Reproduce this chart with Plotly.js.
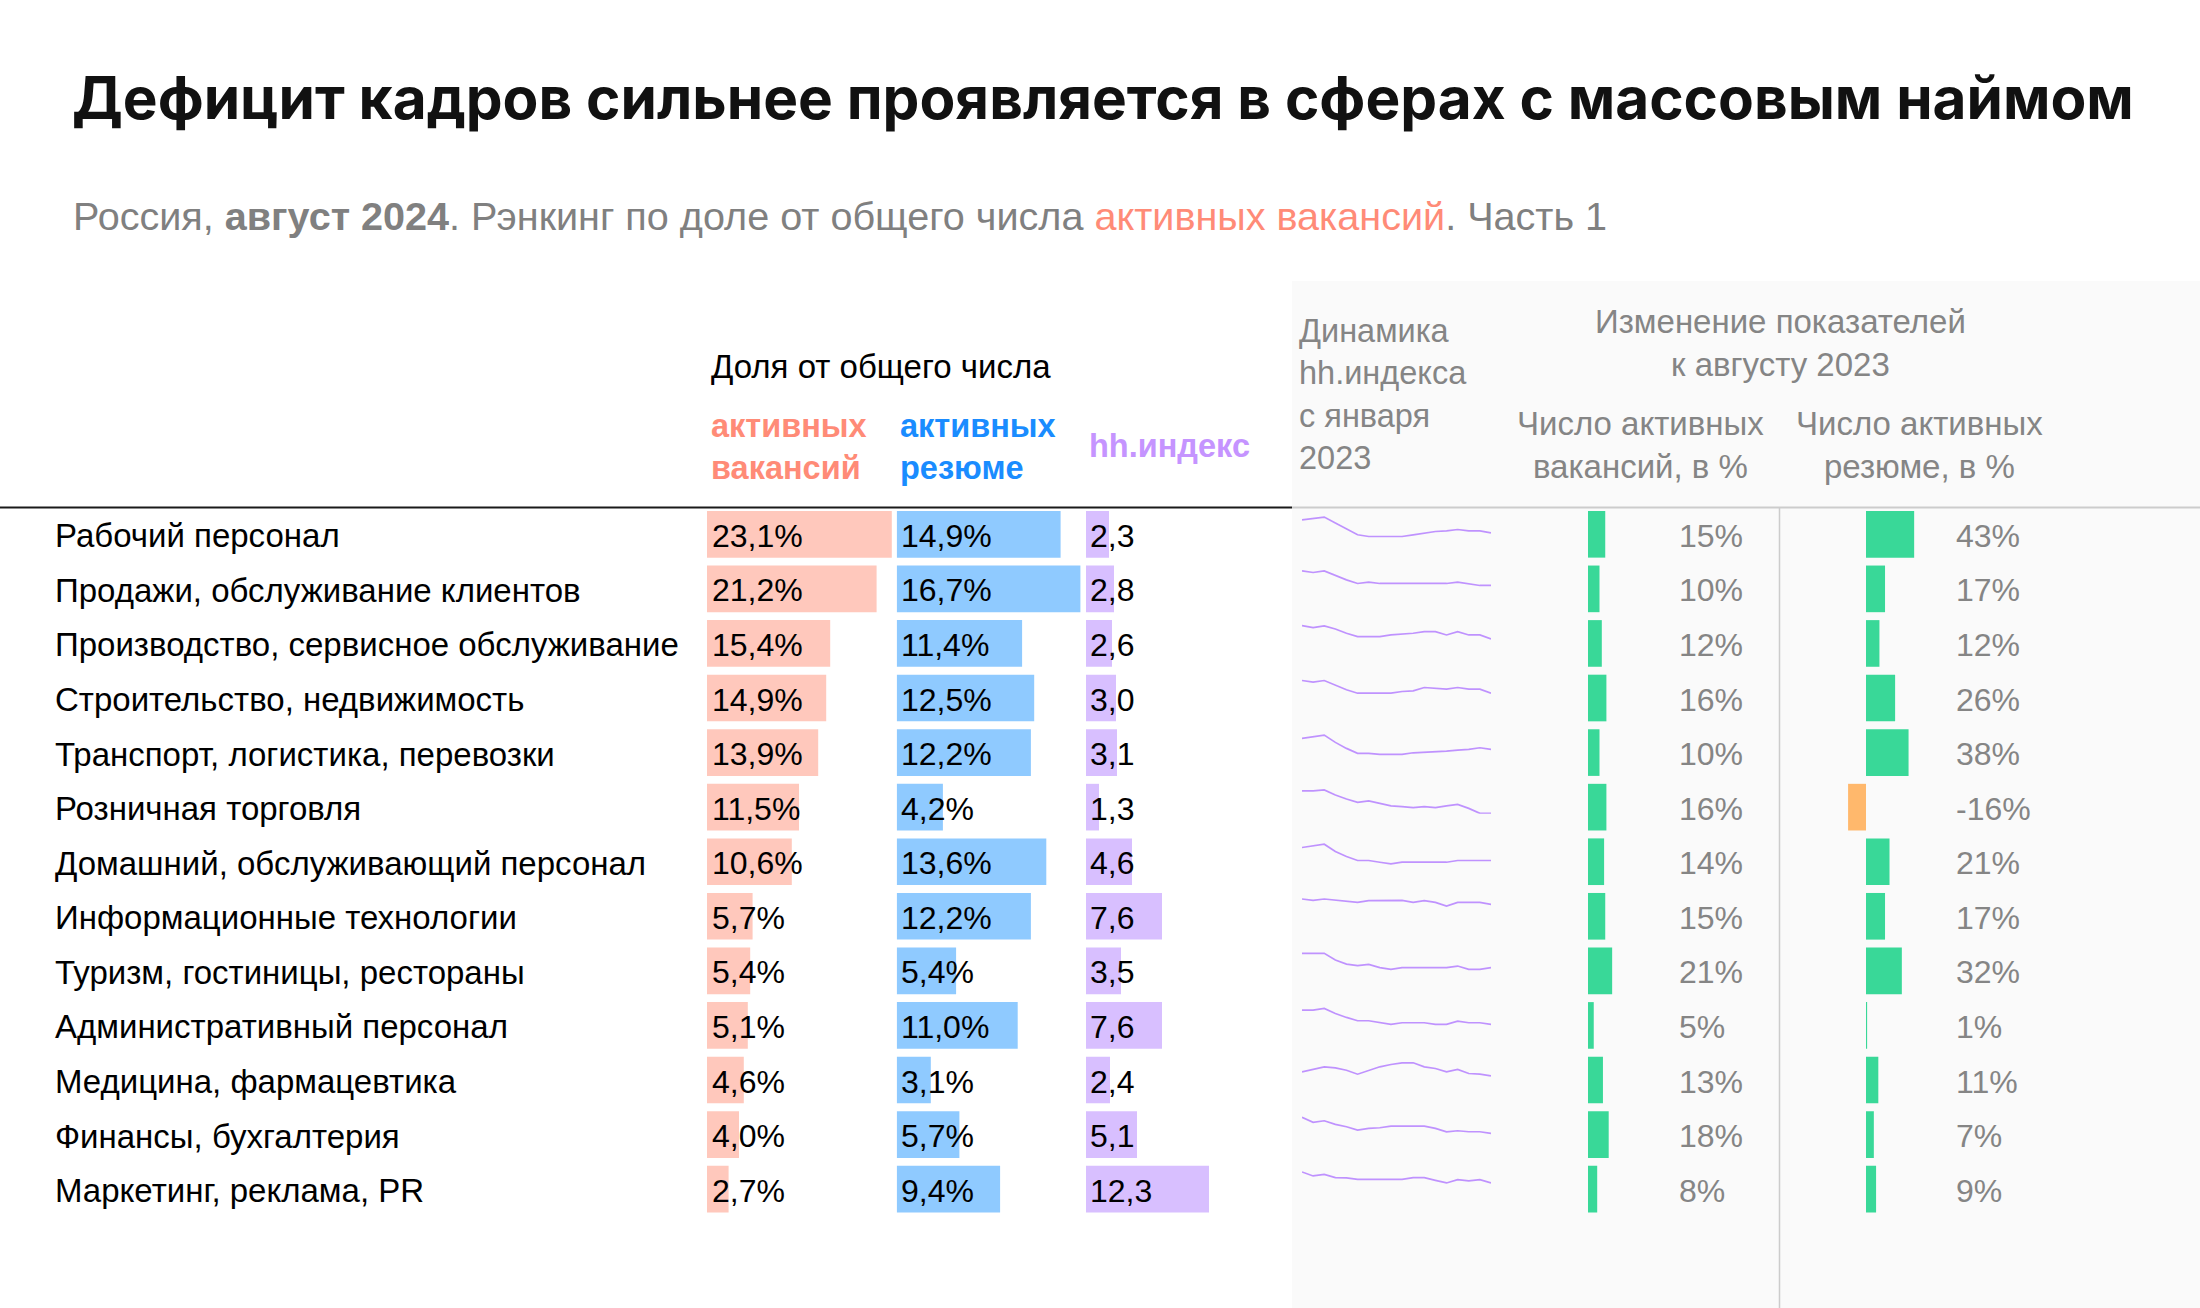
<!DOCTYPE html>
<html>
<head>
<meta charset="utf-8">
<script src="https://cdn.plot.ly/plotly-3.0.1.min.js"></script>
<style>
  html, body { margin: 0; padding: 0; background: #ffffff; }
  #chart { width: 2200px; height: 1308px; }
</style>
</head>
<body>
<div id="chart"></div>
<script>
// ---------------- DATA ----------------
const categories = [
  "Рабочий персонал",
  "Продажи, обслуживание клиентов",
  "Производство, сервисное обслуживание",
  "Строительство, недвижимость",
  "Транспорт, логистика, перевозки",
  "Розничная торговля",
  "Домашний, обслуживающий персонал",
  "Информационные технологии",
  "Туризм, гостиницы, рестораны",
  "Административный персонал",
  "Медицина, фармацевтика",
  "Финансы, бухгалтерия",
  "Маркетинг, реклама, PR"
];
const vacancyShare = [23.1, 21.2, 15.4, 14.9, 13.9, 11.5, 10.6, 5.7, 5.4, 5.1, 4.6, 4.0, 2.7];
const resumeShare  = [14.9, 16.7, 11.4, 12.5, 12.2, 4.2, 13.6, 12.2, 5.4, 11.0, 3.1, 5.7, 9.4];
const hhIndex      = [2.3, 2.8, 2.6, 3.0, 3.1, 1.3, 4.6, 7.6, 3.5, 7.6, 2.4, 5.1, 12.3];
const vacancyChange = [15, 10, 12, 16, 10, 16, 14, 15, 21, 5, 13, 18, 8];
const resumeChange  = [43, 17, 12, 26, 38, -16, 21, 17, 32, 1, 11, 7, 9];

// hh.index trend since Jan 2023 (relative level read from the sparklines)
const trend0  = [21, 22.3, 23.7, 17.7, 12, 6, 4.3, 4.3, 4.3, 4.3, 6, 7.7, 9.3, 10, 11.3, 10, 10, 8];
const trend1  = [24.5, 22.9, 24.5, 19.9, 15.5, 11.9, 13.2, 11.9, 11.9, 11.9, 11.9, 11.9, 11.9, 11.9, 13.2, 11.2, 9.9, 9.9];
const trend2  = [24.3, 22.3, 24, 21, 16.7, 13.3, 13.3, 13.3, 15, 15.7, 16.7, 18.3, 18.3, 15, 18.3, 15, 15, 11];
const trend3  = [24, 22.3, 24, 19, 14.7, 11.3, 11.3, 11.3, 11.3, 13, 13.7, 17, 16.3, 15.3, 17, 15.3, 15.3, 11.3];
const trend4  = [20.7, 22.3, 24, 16.7, 10.7, 5.7, 5.7, 4.7, 4.7, 4.7, 6.3, 6.7, 7.3, 8, 9, 9.7, 11.3, 9.7];
const trend5  = [22.7, 22.7, 23.7, 18.7, 14.7, 11.3, 12.7, 10.3, 7.7, 7, 6, 7, 6, 7.7, 9.3, 5.3, 0.3, 0.3];
const trend6  = [20.7, 22.3, 24, 16.7, 11.7, 7.7, 7.7, 6, 4.3, 6, 6, 6, 6, 6, 7.7, 7.7, 7.7, 7.7];
const trend7  = [23.8, 22.4, 23.8, 22.8, 22.1, 20.4, 22.1, 22.4, 22.4, 22.4, 20.4, 22.1, 20.4, 16.8, 20.4, 20.4, 20.4, 18.4];
const trend8  = [24, 24, 24, 17.3, 13.3, 11.7, 13, 9.7, 8, 9.7, 9.7, 9.7, 9.7, 9.7, 11.3, 8, 8, 9.7];
const trend9  = [21.8, 21.8, 23.5, 18.5, 14.5, 11.2, 11.2, 9.2, 7.5, 9.2, 9.2, 9.2, 7.5, 7.5, 10.8, 9.2, 9.2, 7.5];
const trend10 = [14.7, 17, 19.7, 18.7, 16.3, 12.3, 16.3, 19.7, 22, 23.7, 23.7, 19.7, 18, 14.7, 17, 13, 12.3, 10.7];
const trend11 = [23.7, 18.7, 20.3, 16.7, 14.3, 11, 12.7, 13.3, 15, 15, 15, 15, 12.7, 9.3, 10.3, 9.3, 9.3, 7.7];
const trend12 = [23.7, 19.7, 21.3, 18, 17.7, 16.3, 16.3, 16.3, 16.3, 16.3, 18, 18, 15.3, 12.7, 16, 14.7, 16, 12.7];
const trends = [trend0, trend1, trend2, trend3, trend4, trend5, trend6, trend7, trend8, trend9, trend10, trend11, trend12];

const titleText = "Дефицит кадров сильнее проявляется в сферах с массовым наймом";
const subtitleText = "Россия, <b>август 2024</b>. Рэнкинг по доле от общего числа <span style='color:#ff8b77'>активных вакансий</span>. Часть 1";

// ---------------- LAYOUT HELPERS ----------------
const W = 2200, H = 1308;
const px = x => x / W;
const py = y => 1 - y / H;
const ROW0 = 534.3, ROWH = 54.57, N = categories.length;
const rowIdx = categories.map((_, i) => i);
const BARW = 0.855;

const FONT = "Liberation Sans, Arial, sans-serif";
const C_VAC = "#ffc8bc", C_RES = "#8fcaff", C_HH = "#d8bfff";
const C_UP = "#39d898", C_DOWN = "#ffb86c";
const GREY = "#858585";

const fmt1 = v => v.toFixed(1).replace(".", ",");

// ---------------- TRACES ----------------
const traces = [];
traces.push({type: "bar", orientation: "h", y: rowIdx, x: vacancyShare, xaxis: "x", yaxis: "y",
  width: BARW, marker: {color: C_VAC}, hoverinfo: "skip"});
traces.push({type: "bar", orientation: "h", y: rowIdx, x: resumeShare, xaxis: "x2", yaxis: "y",
  width: BARW, marker: {color: C_RES}, hoverinfo: "skip"});
traces.push({type: "bar", orientation: "h", y: rowIdx, x: hhIndex, xaxis: "x3", yaxis: "y",
  width: BARW, marker: {color: C_HH}, hoverinfo: "skip"});
traces.push({type: "bar", orientation: "h", y: rowIdx, x: vacancyChange, xaxis: "x4", yaxis: "y",
  width: BARW, marker: {color: vacancyChange.map(v => v >= 0 ? C_UP : C_DOWN)}, hoverinfo: "skip"});
traces.push({type: "bar", orientation: "h", y: rowIdx, x: resumeChange, xaxis: "x5", yaxis: "y",
  width: BARW, marker: {color: resumeChange.map(v => v >= 0 ? C_UP : C_DOWN)}, hoverinfo: "skip"});

trends.forEach((t, i) => {
  traces.push({type: "scatter", mode: "lines", x: t.map((_, k) => k), y: t,
    xaxis: "x" + (6 + i), yaxis: "y" + (2 + i),
    line: {color: "rgba(176,120,255,0.8)", width: 1.7}, hoverinfo: "skip"});
});

// ---------------- AXES ----------------
const hidden = {visible: false, fixedrange: true, showgrid: false, zeroline: false};
const layout = {
  width: W, height: H,
  margin: {l: 0, r: 0, t: 0, b: 0},
  paper_bgcolor: "#ffffff",
  plot_bgcolor: "rgba(0,0,0,0)",
  showlegend: false,
  barmode: "overlay",
  font: {family: FONT, color: "#000"},
  title: {
    text: titleText, x: px(72), xanchor: "left", xref: "paper",
    y: py(99), yanchor: "middle", yref: "paper",
    font: {family: "Inter, Roboto, sans-serif", size: 58.5, weight: 700, color: "#111111"}
  },
  yaxis: Object.assign({}, hidden, {range: [N - 0.5, -0.5],
    domain: [py(ROW0 + (N - 0.5) * ROWH), py(ROW0 - 0.5 * ROWH)], anchor: "x"}),
  xaxis:  Object.assign({}, hidden, {range: [0, 25], domain: [px(707), px(707 + 8 * 25)], anchor: "y"}),
  xaxis2: Object.assign({}, hidden, {range: [0, 20], domain: [px(896.7), px(896.7 + 11 * 20)], anchor: "y"}),
  xaxis3: Object.assign({}, hidden, {range: [0, 15], domain: [px(1086), px(1086 + 10 * 15)], anchor: "y"}),
  xaxis4: Object.assign({}, hidden, {range: [(1540 - 1588) / 1.15, (1700 - 1588) / 1.15], domain: [px(1540), px(1700)], anchor: "y"}),
  xaxis5: Object.assign({}, hidden, {range: [(1820 - 1866) / 1.12, (1980 - 1866) / 1.12], domain: [px(1820), px(1980)], anchor: "y"}),
  shapes: [],
  annotations: []
};
trends.forEach((t, i) => {
  const top = ROW0 - 23.5 + i * ROWH;
  layout["xaxis" + (6 + i)] = Object.assign({}, hidden, {range: [0, t.length - 1],
    domain: [px(1302), px(1491)], anchor: "y" + (2 + i)});
  layout["yaxis" + (2 + i)] = Object.assign({}, hidden, {range: [0, 30],
    domain: [py(top + 30), py(top)], anchor: "x" + (6 + i)});
});

// ---------------- SHAPES ----------------
layout.shapes.push({type: "rect", xref: "paper", yref: "paper", x0: px(1292), x1: 1, y0: 0, y1: py(281),
  fillcolor: "#fafafa", line: {width: 0}, layer: "below"});
layout.shapes.push({type: "line", xref: "paper", yref: "paper", x0: 0, x1: px(1292), y0: py(507.5), y1: py(507.5),
  line: {color: "#1a1a1a", width: 2}});
layout.shapes.push({type: "line", xref: "paper", yref: "paper", x0: px(1292), x1: 1, y0: py(507.5), y1: py(507.5),
  line: {color: "#cccccc", width: 2}});
layout.shapes.push({type: "line", xref: "paper", yref: "paper", x0: px(1779.5), x1: px(1779.5), y0: 0, y1: py(507.5),
  line: {color: "#cccccc", width: 1.5}});

// ---------------- ANNOTATIONS ----------------
function ann(o) {
  layout.annotations.push(Object.assign({showarrow: false, xref: "paper", yref: "paper", borderpad: 0,
    font: {family: FONT, size: 32, color: "#000"}}, o));
}
// subtitle
ann({text: subtitleText, x: px(72), xanchor: "left", y: py(216), yanchor: "middle",
  font: {family: FONT, size: 39.6, color: "#808080"}});
// left headers
ann({text: "Доля от общего числа", x: px(710), xanchor: "left", y: py(366), yanchor: "middle",
  font: {family: FONT, size: 33, color: "#000"}});
ann({text: "<b>активных<br>вакансий</b>", x: px(710), xanchor: "left", align: "left", y: py(447), yanchor: "middle",
  font: {family: FONT, size: 32.5, color: "#ff8b77"}});
ann({text: "<b>активных<br>резюме</b>", x: px(899), xanchor: "left", align: "left", y: py(447), yanchor: "middle",
  font: {family: FONT, size: 32.5, color: "#1a8cff"}});
ann({text: "<b>hh.индекс</b>", x: px(1088), xanchor: "left", align: "left", y: py(446), yanchor: "middle",
  font: {family: FONT, size: 32.5, color: "#c594ff"}});
// right headers
ann({text: "Динамика<br>hh.индекса<br>с января<br>2023", x: px(1298), xanchor: "left", align: "left",
  y: py(394), yanchor: "middle", font: {family: FONT, size: 32.5, color: GREY}});
ann({text: "Изменение показателей<br>к августу 2023", x: px(1780), xanchor: "center", align: "center",
  y: py(343), yanchor: "middle", font: {family: FONT, size: 33, color: GREY}});
ann({text: "Число активных<br>вакансий, в %", x: px(1641), xanchor: "center", align: "center",
  y: py(445), yanchor: "middle", font: {family: FONT, size: 33, color: GREY}});
ann({text: "Число активных<br>резюме, в %", x: px(1919), xanchor: "center", align: "center",
  y: py(445), yanchor: "middle", font: {family: FONT, size: 33, color: GREY}});

// rows
const RS = -1.5;
categories.forEach((c, i) => {
  ann({text: c, x: px(54), xanchor: "left", yref: "y", y: i, yanchor: "middle", yshift: RS,
    font: {family: FONT, size: 33, color: "#000"}});
  ann({text: fmt1(vacancyShare[i]) + "%", x: px(711), xanchor: "left", yref: "y", y: i, yanchor: "middle", yshift: RS});
  ann({text: fmt1(resumeShare[i]) + "%", x: px(900), xanchor: "left", yref: "y", y: i, yanchor: "middle", yshift: RS});
  ann({text: fmt1(hhIndex[i]), x: px(1089), xanchor: "left", yref: "y", y: i, yanchor: "middle", yshift: RS});
  ann({text: vacancyChange[i] + "%", x: px(1678), xanchor: "left", yref: "y", y: i, yanchor: "middle", yshift: RS,
    font: {family: FONT, size: 32, color: GREY}});
  ann({text: resumeChange[i] + "%", x: px(1955), xanchor: "left", yref: "y", y: i, yanchor: "middle", yshift: RS,
    font: {family: FONT, size: 32, color: GREY}});
});

Plotly.newPlot("chart", traces, layout, {displayModeBar: false, staticPlot: true});
</script>
</body>
</html>
